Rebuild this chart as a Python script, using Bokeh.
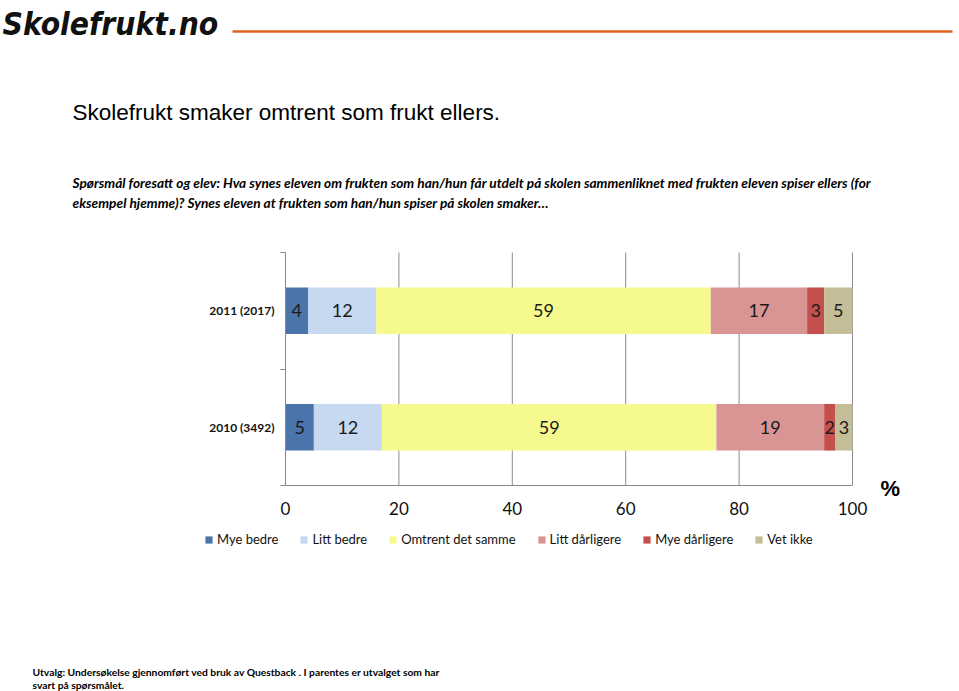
import numpy as np
from bokeh.plotting import figure
from bokeh.models import (ColumnDataSource, Label, Legend, LegendItem, FixedTicker,
                          Range1d, LinearAxis)
from bokeh.core.properties import value
from bokeh.embed import file_html
from bokeh.resources import INLINE

# ---- data ----
categories = ["2011 (2017)", "2010 (3492)"]
cat_pos = [1.5, 0.5]
series = ["Mye bedre", "Litt bedre", "Omtrent det samme", "Litt dårligere", "Mye dårligere", "Vet ikke"]
mye_bedre = [4, 5]
litt_bedre = [12, 12]
omtrent = [59, 59]
litt_darligere = [17, 19]
mye_darligere = [3, 2]
vet_ikke = [5, 3]
x_ticks = [0, 20, 40, 60, 80, 100]

colors = ["#4A74AA", "#C6D9F1", "#F6FA8E", "#D99594", "#C4504D", "#C4BD97"]
keys = ["s0", "s1", "s2", "s3", "s4", "s5"]
vals = [mye_bedre, litt_bedre, omtrent, litt_darligere, mye_darligere, vet_ikke]

data = {"y": cat_pos}
for k, v in zip(keys, vals):
    data[k] = v
src = ColumnDataSource(data)

# page geometry (pixels)
W, H = 959, 691
FL, FR, FT, FB = 285, 852, 252, 485   # chart plotting area

# canvas-wide frame in pixel coordinates for the surrounding texts
p = figure(width=W, height=H, output_backend="svg", toolbar_location=None,
           x_range=Range1d(0, W), y_range=Range1d(H, 0),
           min_border=0, x_axis_location=None, y_axis_location=None)
p.outline_line_color = None
p.background_fill_color = "white"
p.grid.visible = False

# chart scales: 0..100 % across [FL, FR], 0..2 across [FB, FT]
pxu = (FR - FL) / 100.0
pyu = (FB - FT) / 2.0
p.extra_x_ranges = {"pct": Range1d(-FL / pxu, (W - FL) / pxu)}
p.extra_y_ranges = {"cat": Range1d(-(H - FB) / pyu, FB / pyu)}

# gridlines (20..100) limited to the chart area
gx = x_ticks[1:]
p.segment(x0=gx, y0=[0] * len(gx), x1=gx, y1=[2] * len(gx),
          x_range_name="pct", y_range_name="cat", line_color="#8c8c8c", line_width=1)

renderers = p.hbar_stack(keys, y="y", height=0.4, color=colors, source=src,
                         line_color=None, x_range_name="pct", y_range_name="cat")

# value labels
arr = np.array(vals, dtype=float)
cum = np.cumsum(arr, axis=0)
centers = cum - arr / 2
lx, ly, lt = [], [], []
for i in range(len(series)):
    for j in range(len(categories)):
        lx.append(centers[i, j])
        ly.append(cat_pos[j])
        lt.append(str(vals[i][j]))
p.text(x=lx, y=ly, text=lt, text_align="center", text_baseline="middle",
       text_font=value("Lato"), text_font_size="18px", text_color="#1a1a1a",
       x_range_name="pct", y_range_name="cat")

# axes placed on the chart area
xa = LinearAxis(x_range_name="pct", y_range_name="cat", fixed_location=0, bounds=(0, 100))
xa.ticker = FixedTicker(ticks=x_ticks)
xa.major_label_text_font = "Lato"
xa.major_label_text_font_size = "17px"
xa.major_label_text_color = "#111111"
xa.major_tick_in = 0
xa.major_tick_out = 0
xa.minor_tick_in = 0
xa.minor_tick_out = 0
xa.major_label_standoff = 16
xa.axis_line_color = "#888888"
p.add_layout(xa, "below")

ya = LinearAxis(x_range_name="pct", y_range_name="cat", fixed_location=0, bounds=(0, 2))
ya.ticker = FixedTicker(ticks=cat_pos, minor_ticks=[0, 1, 2])
ya.major_label_overrides = {cat_pos[i]: categories[i] for i in range(len(categories))}
ya.major_label_text_font = "Lato"
ya.major_label_text_font_style = "bold"
ya.major_label_text_font_size = "12px"
ya.major_label_text_color = "#111111"
ya.major_tick_in = 0
ya.major_tick_out = 0
ya.minor_tick_in = 0
ya.minor_tick_out = 5
ya.minor_tick_line_color = "#888888"
ya.major_label_standoff = 6
ya.axis_line_color = "#888888"
p.add_layout(ya, "left")

# legend
items = [LegendItem(label=series[i], renderers=[renderers[i]]) for i in range(len(series))]
leg = Legend(items=items, orientation="horizontal", location=(204, H - 547),
             glyph_width=9, glyph_height=9, label_standoff=4, spacing=21,
             padding=0, margin=0, label_text_font="Lato", label_text_font_size="13px",
             label_text_color="#111111", border_line_color=None,
             background_fill_alpha=0, label_height=14)
p.add_layout(leg, "center")

# texts around the chart (pixel coordinates of the page)
def lab(text, px, py, size, font="Lato", style="normal", color="#000000", align="left"):
    p.add_layout(Label(x=px, y=py, text=text, text_font=font, text_font_size=size,
                       text_font_style=style, text_color=color,
                       text_align=align, text_baseline="middle"))

lab("Skolefrukt.no", 2, 23, "31.5px", font="DejaVu Sans Condensed",
    style="bold italic", color="#111111")
lab("Skolefrukt smaker omtrent som frukt ellers.", 72, 112, "22.5px", font="Liberation Sans")
lab("Spørsmål  foresatt og elev: Hva synes eleven om frukten som han/hun får utdelt på skolen "
    "sammenliknet med frukten eleven spiser ellers (for", 72, 182, "13.7px", style="bold italic")
lab("eksempel hjemme)? Synes eleven at frukten som han/hun spiser på skolen smaker…",
    72, 202, "13.7px", style="bold italic")
lab("%", 880, 488, "22px", font="Liberation Sans", style="bold")
lab("Utvalg: Undersøkelse gjennomført ved bruk av Questback . I parentes er utvalget som har",
    32, 671, "10.3px", style="bold")
lab("svart på spørsmålet.", 32, 684, "10.3px", style="bold")

# orange rule next to the logo
p.segment(x0=[232], y0=[31], x1=[952], y1=[31], line_color="#E0621F", line_width=2.5)

open("out.html", "w").write(file_html(p, INLINE))
